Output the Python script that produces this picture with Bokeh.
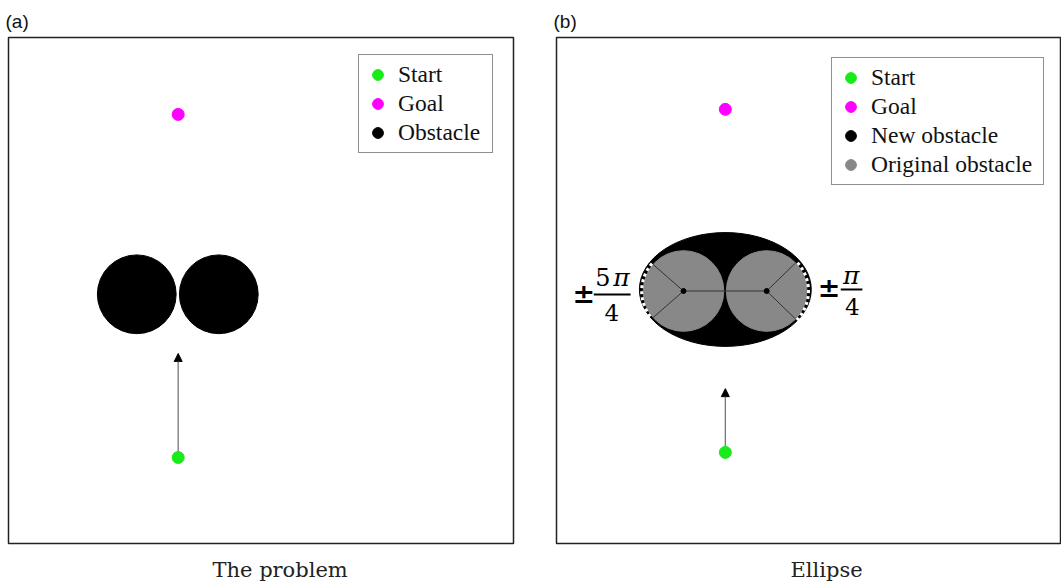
import numpy as np
from bokeh.plotting import figure
from bokeh.models import (ColumnDataSource, Legend, LegendItem, Arrow, NormalHead,
                          Title, Range1d)
from bokeh.layouts import row
from bokeh.embed import file_html
from bokeh.resources import INLINE
from bokeh.core.properties import value

# ---------------- data: panel (a) "The problem" ----------------
a_start_x, a_start_y = [3.36], [1.70]
a_goal_x, a_goal_y = [3.36], [8.48]
a_arrow_tip_y = [3.755]
a_obst_x = [2.54, 4.164]
a_obst_y = [4.925, 4.925]
a_obst_r = 0.78

# ---------------- data: panel (b) "Ellipse" ----------------
b_start_x, b_start_y = [3.35], [1.80]
b_goal_x, b_goal_y = [3.35], [8.58]
b_arrow_tip_y = [3.06]
b_ell_x, b_ell_y = [3.35], [5.02]
b_ell_w, b_ell_h = [3.41], [2.25]
b_orig_x = [2.52, 4.17]
b_orig_y = [4.99, 4.99]
b_orig_r = 0.80
b_left_angles_deg = [139, 221]     # spokes of the left circle
b_right_angles_deg = [44, -44]     # spokes of the right circle

GREEN = "#18ec18"
MAGENTA = "#ff00ff"
GRAY = "#888888"


def make_fig(w, bl, br):
    p = figure(width=w, height=584, x_range=Range1d(0, 10), y_range=Range1d(0, 10),
               output_backend="svg", toolbar_location=None,
               x_axis_location=None, y_axis_location=None,
               min_border_left=bl, min_border_right=br,
               min_border_top=37, min_border_bottom=41)
    p.grid.visible = False
    p.outline_line_color = "#222222"
    p.outline_line_width = 1.5
    p.background_fill_color = "white"
    p.border_fill_color = "white"
    return p


def add_titles(p, tag, caption, cap_offset):
    p.add_layout(Title(text=tag, align="left", text_font="Liberation Sans",
                       text_font_size="19px", text_font_style="normal",
                       text_color="#111111", offset=-3, standoff=12), "above")
    # small spacer between the frame and the caption
    p.add_layout(Title(text=" ", text_font_size="1px", standoff=6), "below")
    p.add_layout(Title(text=caption, align="left", offset=cap_offset,
                       text_font="DejaVu Serif", text_font_size="21px",
                       text_font_style="normal", text_color="#222222",
                       standoff=6), "below")


def add_arrow(p, x, y0, y1):
    src = ColumnDataSource(dict(x0=x, y0=y0, x1=x, y1=y1))
    arr = Arrow(source=src, x_start="x0", y_start="y0", x_end="x1", y_end="y1",
                line_color="#777777", line_width=1.3,
                end=NormalHead(size=8, fill_color="black", line_color="black", line_width=1))
    arr.level = "underlay"
    p.add_layout(arr)


def make_legend(items, loc, gh, lw):
    return Legend(items=items, location=loc, padding=5, margin=0, spacing=0,
                  glyph_width=27, glyph_height=gh, label_height=gh, label_width=lw,
                  label_standoff=7, label_text_font="Liberation Serif",
                  label_text_font_size="23.5px", label_text_color="#111111",
                  border_line_color="#222222", border_line_width=1.5,
                  background_fill_color="white", background_fill_alpha=1)


# ---------------- panel (a) ----------------
pa = make_fig(530, 8, 17)
add_titles(pa, "(a)", "The problem", 204)
r_obst = pa.circle(x=a_obst_x, y=a_obst_y, radius=a_obst_r, fill_color="black",
                   line_color="black")
add_arrow(pa, a_start_x, a_start_y, a_arrow_tip_y)
r_goal_a = pa.scatter(x=a_goal_x, y=a_goal_y, size=12, fill_color=MAGENTA, line_color=MAGENTA)
r_start_a = pa.scatter(x=a_start_x, y=a_start_y, size=12, fill_color=GREEN, line_color=GREEN)
pa.add_layout(make_legend([LegendItem(label="Start", renderers=[r_start_a]),
                           LegendItem(label="Goal", renderers=[r_goal_a]),
                           LegendItem(label="Obstacle", renderers=[r_obst])],
                          (350, 390), 29, 89))

# ---------------- panel (b) ----------------
pb = make_fig(531, 26, 1)
add_titles(pb, "(b)", "Ellipse", 234)
pb.ellipse(x=b_ell_x, y=b_ell_y, width=b_ell_w, height=b_ell_h,
           fill_color="black", line_color="black")
r_orig = pb.circle(x=b_orig_x, y=b_orig_y, radius=b_orig_r, fill_color=GRAY,
                   line_color=GRAY)

# spokes
sx0, sy0, sx1, sy1 = [], [], [], []
for cx, cy, angs in [(b_orig_x[0], b_orig_y[0], b_left_angles_deg),
                     (b_orig_x[1], b_orig_y[1], b_right_angles_deg)]:
    for a in angs:
        t = np.deg2rad(a)
        sx0.append(cx); sy0.append(cy)
        sx1.append(cx + b_orig_r * np.cos(t)); sy1.append(cy + b_orig_r * np.sin(t))
# line between centres
sx0.append(b_orig_x[0]); sy0.append(b_orig_y[0]); sx1.append(b_orig_x[1]); sy1.append(b_orig_y[1])
pb.segment(x0=sx0, y0=sy0, x1=sx1, y1=sy1, line_color="#333333", line_width=1)

# dotted white arcs between spokes
pb.arc(x=b_orig_x, y=b_orig_y, radius=b_orig_r + 0.03,
       start_angle=[np.deg2rad(b_left_angles_deg[0]), np.deg2rad(b_right_angles_deg[1])],
       end_angle=[np.deg2rad(b_left_angles_deg[1]), np.deg2rad(b_right_angles_deg[0])],
       line_color="white", line_width=3, line_dash="3 3")

r_new = pb.scatter(x=b_orig_x, y=b_orig_y, size=5, fill_color="black", line_color="black")

add_arrow(pb, b_start_x, b_start_y, b_arrow_tip_y)
r_goal_b = pb.scatter(x=b_goal_x, y=b_goal_y, size=12, fill_color=MAGENTA, line_color=MAGENTA)
r_start_b = pb.scatter(x=b_start_x, y=b_start_y, size=12, fill_color=GREEN, line_color=GREEN)

# angle labels  ±5π/4  and  ±π/4
pb.text(x=[0.54, 5.41], y=[4.94, 5.05], text=["±", "±"],
        text_font=value("DejaVu Sans"), text_font_style="bold", text_font_size="27px",
        text_align="center", text_baseline="middle", text_color="black")
pb.text(x=[0.92], y=[5.26], text=["5"],
        text_font=value("DejaVu Serif"), text_font_size="24px",
        text_align="center", text_baseline="middle", text_color="black")
pb.text(x=[1.29, 5.85], y=[5.26, 5.30], text=["π", "π"],
        text_font=value("DejaVu Serif"), text_font_style="italic", text_font_size="25px",
        text_align="center", text_baseline="middle", text_color="black")
pb.text(x=[1.10, 5.87], y=[4.55, 4.68], text=["4", "4"],
        text_font=value("DejaVu Serif"), text_font_size="23px",
        text_align="center", text_baseline="middle", text_color="black")
pb.segment(x0=[0.74, 5.64], y0=[4.92, 5.02], x1=[1.47, 6.07], y1=[4.92, 5.02],
           line_color="black", line_width=2)

pb.add_layout(make_legend([LegendItem(label="Start", renderers=[r_start_b]),
                           LegendItem(label="Goal", renderers=[r_goal_b]),
                           LegendItem(label="New obstacle", renderers=[r_new]),
                           LegendItem(label="Original obstacle", renderers=[r_orig])],
                          (275, 358), 29, 167))

layout = row(pa, pb)
open("out.html", "w").write(file_html(layout, INLINE))
